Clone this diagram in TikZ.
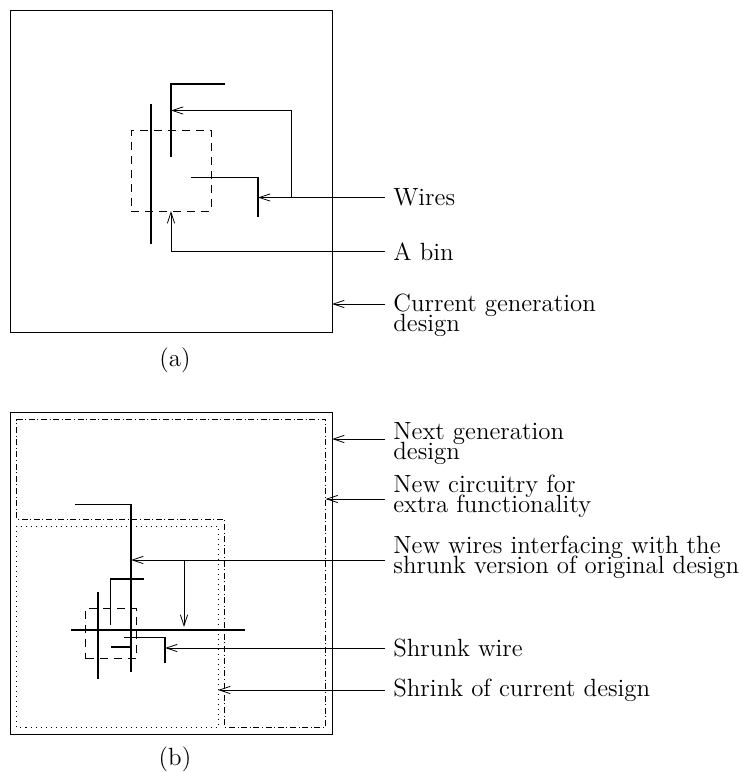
\documentclass[tikz,border=0pt]{standalone}
\usepackage{tikz}
\usetikzlibrary{arrows.meta,positioning,calc}
\newcommand{\lblfont}{\fontsize{12.45}{10}\selectfont\lineskiplimit -6pt\relax}
\begin{document}
\begin{tikzpicture}[x=0.5pt,y=-0.5pt,
    lbl/.style={anchor=west,align=left,inner xsep=4pt,inner ysep=0pt,font=\lblfont},
    frame/.style={draw,line width=0.5pt,inner sep=0pt,outer sep=0pt,minimum width=161pt,minimum height=161pt},
    bin/.style={draw,line width=0.4pt,dash pattern=on 4pt off 3pt,inner sep=0pt,outer sep=0pt},
    wire/.style={line width=0.7pt},
    lead/.style={line width=0.4pt,-{Straight Barb[length=5.5pt,width=3.6pt]}},
    dashdot/.style={line width=0.4pt,dash pattern=on 3pt off 1.3pt on 0.5pt off 1.3pt},
    dots/.style={line width=0.5pt,dash pattern=on 0.5pt off 2pt}]
  \useasboundingbox (0,0) rectangle (743,772);
  % part (a)
  \node[frame] (cur) at (171,171) {};
  \node[bin,minimum width=40pt,minimum height=40.25pt] (bina) at (171,170.75) {};
  \draw[wire] (225,84) -- (171,84) -- (171,157);
  \draw[wire] (151,104) -- (151,244);
  \draw[wire] (191,177.5) -- (258,177.5) -- (258,217);
  \coordinate (wtop) at (171,110.5);
  \coordinate (wlow) at (258,197.5);
  \coordinate (curpt) at (332,304);
  \node[lbl] (wires) at (385,197.5) {Wires};
  \node[lbl] (abin) at (385,251.5) {A bin};
  \node[lbl] (curlbl) at (385,315.5) {Current generation\\design};
  \draw[lead] (wires.west) -- (wlow);
  \draw[lead] (wires.west -| 291.5,0) -- (291.5,110.5) -- (wtop);
  \draw[lead] (abin.west) -| (bina.south);
  \draw[lead] (curpt -| curlbl.west) -- (curpt);
  \node[font=\lblfont] (capa) at (175,360) {(a)};
  % part (b)
  \node[frame] (next) at (171,573) {};
  \draw[dashdot] (16.5,419) -- (325.5,419) -- (325.5,727) -- (224.5,727)
    -- (224.5,519.5) -- (16.5,519.5) -- cycle;
  \draw[dots] (16.5,526) rectangle (218,727);
  \node[bin,minimum width=25.25pt,minimum height=25.25pt] (binb) at (110.75,633.25) {};
  \draw[wire] (75,504.5) -- (131,504.5) -- (131,672);
  \draw[wire] (110.5,625) -- (110.5,579) -- (144,579);
  \draw[wire] (98,592) -- (98,679);
  \draw[wire] (71,629.8) -- (244.5,629.8);
  \draw[wire] (123.5,637.5) -- (165,637.5) -- (165,662.5);
  \draw[wire] (111,647) -- (131,647);
  \coordinate (nextpt) at (332,439);
  \coordinate (newpt) at (325.5,499);
  \coordinate (nwpt) at (131,560);
  \coordinate (swpt) at (165,648);
  \coordinate (shpt) at (218,690);
  \node[lbl] (nextlbl) at (385,443.5) {Next generation\\design};
  \node[lbl] (newlbl) at (385,496.5) {New circuitry for\\extra functionality};
  \node[lbl] (nwlbl) at (385,557.5) {New wires interfacing with the\\shrunk version of original design};
  \node[lbl] (swlbl) at (385,648) {Shrunk wire};
  \node[lbl] (shlbl) at (385,690) {Shrink of current design};
  \draw[lead] (nextpt -| nextlbl.west) -- (nextpt);
  \draw[lead] (newpt -| newlbl.west) -- (newpt);
  \draw[lead] (nwpt -| nwlbl.west) -- (nwpt);
  \draw[lead] (184,560) -- (184,627);
  \draw[lead] (swlbl.west) -- (swpt);
  \draw[lead] (shlbl.west) -- (shpt);
  \node[font=\lblfont] (capb) at (175,759) {(b)};
\end{tikzpicture}
\end{document}
